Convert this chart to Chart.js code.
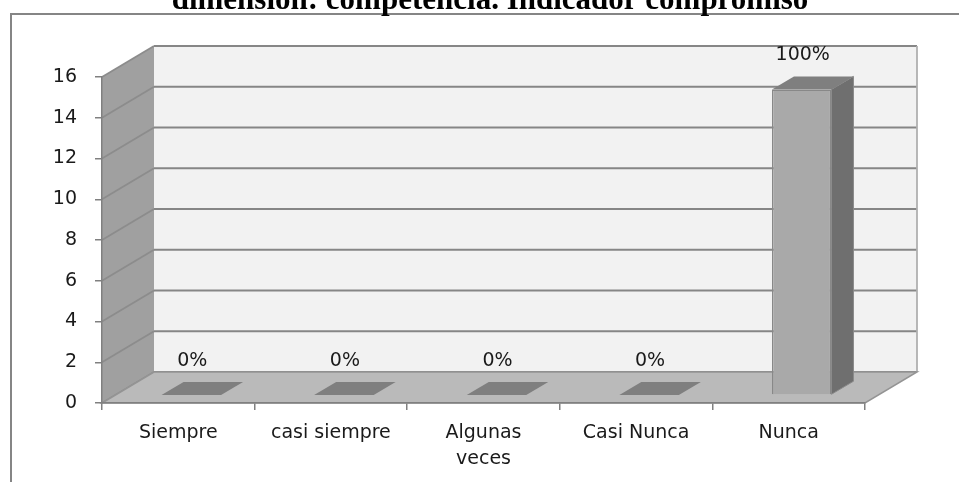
<!DOCTYPE html>
<html>
<head>
<meta charset="utf-8">
<script src="https://cdn.jsdelivr.net/npm/chart.js@4/dist/chart.umd.min.js"></script>
<style>
  html, body { margin: 0; padding: 0; background: #fff; }
  #wrap { width: 959px; height: 482px; }
</style>
</head>
<body>
<div id="wrap"><canvas id="chart"></canvas></div>
<script>
const titleText = "dimensión: competencia. Indicador compromiso";
const categories = ["Siempre", "casi siempre", ["Algunas", "veces"], "Casi Nunca", "Nunca"];
const values = [0, 0, 0, 0, 15];
const pctLabels = ["0%", "0%", "0%", "0%", "100%"];
const yTicks = [0, 2, 4, 6, 8, 10, 12, 14, 16];

// depth of the 3d box, and where the bars sit inside it
const depthX = 52, depthY = -31;
const barShiftX = 13, barShiftY = -8;
const barDepthX = 22, barDepthY = -13;

const frame3d = {
  id: "frame3d",
  beforeDraw(chart) {
    const ctx = chart.ctx;
    const a = chart.chartArea;
    const y = chart.scales.y;

    // outer border + cut-off title
    ctx.save();
    ctx.strokeStyle = "#858585";
    ctx.lineWidth = 2;
    ctx.beginPath();
    ctx.moveTo(11, 482);
    ctx.lineTo(11, 14);
    ctx.lineTo(959, 14);
    ctx.stroke();
    ctx.fillStyle = "#000";
    ctx.font = "bold 31px 'Liberation Serif'";
    ctx.textAlign = "center";
    ctx.textBaseline = "alphabetic";
    ctx.fillText(titleText, 490, 9);

    const y0 = y.getPixelForValue(0);
    const yTop = y.getPixelForValue(16);

    // back wall
    ctx.fillStyle = "#f2f2f2";
    ctx.fillRect(a.left + depthX, yTop + depthY, a.right - a.left, y0 - yTop);
    // left wall
    ctx.fillStyle = "#a0a0a0";
    ctx.beginPath();
    ctx.moveTo(a.left, y0);
    ctx.lineTo(a.left, yTop);
    ctx.lineTo(a.left + depthX, yTop + depthY);
    ctx.lineTo(a.left + depthX, y0 + depthY);
    ctx.closePath();
    ctx.fill();

    // gridlines on walls
    ctx.lineWidth = 1.8;
    for (const v of yTicks) {
      const py = y.getPixelForValue(v);
      ctx.strokeStyle = "#868686";
      ctx.beginPath();
      ctx.moveTo(a.left + depthX, py + depthY);
      ctx.lineTo(a.right + depthX, py + depthY);
      ctx.stroke();
      ctx.strokeStyle = "#8c8c8c";
      ctx.beginPath();
      ctx.moveTo(a.left, py);
      ctx.lineTo(a.left + depthX, py + depthY);
      ctx.stroke();
    }
    ctx.strokeStyle = "#b0b0b0";
    ctx.beginPath();
    ctx.moveTo(a.right + depthX, yTop + depthY);
    ctx.lineTo(a.right + depthX, y0 + depthY);
    ctx.stroke();

    // floor
    ctx.fillStyle = "#bababa";
    ctx.beginPath();
    ctx.moveTo(a.left, y0);
    ctx.lineTo(a.right, y0);
    ctx.lineTo(a.right + depthX, y0 + depthY);
    ctx.lineTo(a.left + depthX, y0 + depthY);
    ctx.closePath();
    ctx.fill();
    ctx.strokeStyle = "#949494";
    ctx.lineWidth = 1.5;
    ctx.stroke();
    ctx.restore();
  },
  beforeDatasetsDraw(chart) {
    chart.ctx.save();
    chart.ctx.translate(barShiftX, barShiftY);
  },
  afterDatasetsDraw(chart) {
    const ctx = chart.ctx;
    const meta = chart.getDatasetMeta(0);
    meta.data.forEach((bar, i) => {
      const x0 = bar.x - bar.width / 2, x1 = bar.x + bar.width / 2;
      const top = bar.y, base = bar.base;
      // side face
      if (base - top > 0.5) {
        ctx.fillStyle = "#6f6f6f";
        ctx.beginPath();
        ctx.moveTo(x1, top);
        ctx.lineTo(x1 + barDepthX, top + barDepthY);
        ctx.lineTo(x1 + barDepthX, base + barDepthY);
        ctx.lineTo(x1, base);
        ctx.closePath();
        ctx.fill();
        ctx.strokeStyle = "#8a8a8a";
        ctx.lineWidth = 1;
        ctx.stroke();
      }
      // top face
      ctx.fillStyle = "#7f7f7f";
      ctx.beginPath();
      ctx.moveTo(x0, top);
      ctx.lineTo(x1, top);
      ctx.lineTo(x1 + barDepthX, top + barDepthY);
      ctx.lineTo(x0 + barDepthX, top + barDepthY);
      ctx.closePath();
      ctx.fill();
      // data label
      ctx.fillStyle = "#1a1a1a";
      ctx.font = "19px 'DejaVu Sans'";
      ctx.textAlign = "center";
      ctx.textBaseline = "middle";
      ctx.fillText(pctLabels[i], bar.x + 1, top - 34);
    });
    ctx.restore();
  }
};

new Chart(document.getElementById("chart"), {
  type: "bar",
  data: {
    labels: categories,
    datasets: [{
      data: values,
      backgroundColor: "#a9a9a9",
      borderColor: "#888888",
      borderWidth: 1.5,
      barPercentage: 0.39,
      categoryPercentage: 1
    }]
  },
  options: {
    responsive: true,
    maintainAspectRatio: false,
    animation: false,
    layout: { padding: { left: 0, top: 77, right: 94, bottom: 0 } },
    plugins: { legend: { display: false }, tooltip: { enabled: false }, title: { display: false } },
    scales: {
      x: {
        grid: { drawOnChartArea: false, tickLength: 7, tickColor: "#808080", offset: true, lineWidth: 1.5 },
        border: { color: "#808080", width: 1.5 },
        ticks: { color: "#1a1a1a", font: { family: "DejaVu Sans", size: 19, lineHeight: 1.37 }, padding: 10, maxRotation: 0 },
        afterFit(scale) { scale.height = 79; }
      },
      y: {
        min: 0, max: 16,
        ticks: { stepSize: 2, color: "#1a1a1a", font: { family: "DejaVu Sans", size: 19 }, padding: 18 },
        grid: { drawOnChartArea: false, tickLength: 7, tickColor: "#808080", lineWidth: 1.5 },
        border: { color: "#808080", width: 1.5 },
        afterFit(scale) { scale.width = 102; }
      }
    }
  },
  plugins: [frame3d]
});
</script>
</body>
</html>
